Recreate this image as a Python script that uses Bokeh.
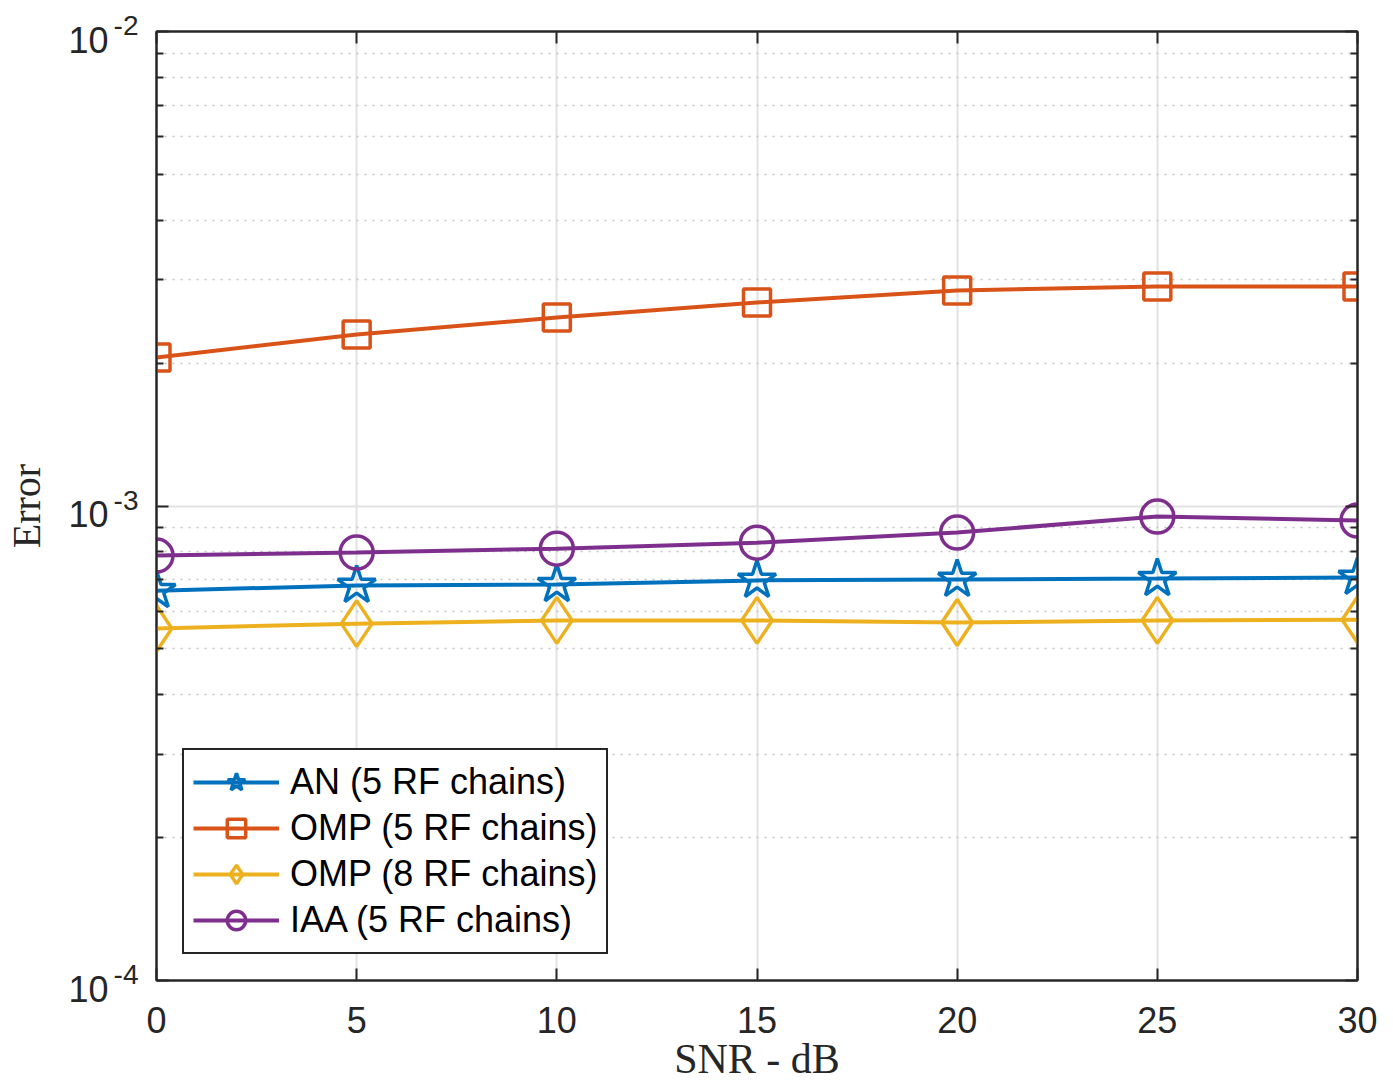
import numpy as np
from bokeh.plotting import figure
from bokeh.models import (LogAxis, LinearAxis, Legend, LegendItem, FixedTicker,
                          Range1d, CustomJSTickFormatter)
from bokeh.embed import file_html
from bokeh.resources import INLINE

# ---- data ----
snr_db = [0, 5, 10, 15, 20, 25, 30]
an_5rf = [6.63e-4, 6.80e-4, 6.83e-4, 6.97e-4, 7.00e-4, 7.03e-4, 7.07e-4]
omp_5rf = [2.056e-3, 2.298e-3, 2.496e-3, 2.685e-3, 2.845e-3, 2.901e-3, 2.900e-3]
omp_8rf = [5.52e-4, 5.65e-4, 5.74e-4, 5.74e-4, 5.68e-4, 5.74e-4, 5.76e-4]
iaa_5rf = [7.86e-4, 7.98e-4, 8.13e-4, 8.37e-4, 8.79e-4, 9.50e-4, 9.32e-4]
series_labels = ["AN (5 RF chains)", "OMP (5 RF chains)", "OMP (8 RF chains)", "IAA (5 RF chains)"]
x_ticks = [0, 5, 10, 15, 20, 25, 30]
y_decades = [-4, -3, -2]

AXC = "#262626"
TICK_FONT = "Liberation Sans"
LABEL_FONT = "Liberation Serif"

y_lo, y_hi = 10.0 ** y_decades[0], 10.0 ** y_decades[-1]
major_y = [10.0 ** e for e in y_decades]
minor_y = [m * 10.0 ** e for e in y_decades[:-1] for m in range(2, 10)]

p = figure(width=1385, height=1088, x_range=Range1d(0, 30), y_range=Range1d(y_lo, y_hi),
           y_axis_type="log", output_backend="svg", toolbar_location=None,
           min_border_left=156, min_border_right=28, min_border_top=31, min_border_bottom=108)
p.background_fill_color = "white"
p.border_fill_color = "white"
p.outline_line_color = AXC
p.outline_line_width = 2

empty = CustomJSTickFormatter(code="return ''")

# bottom axis
xa = p.xaxis[0]
xa.ticker = FixedTicker(ticks=x_ticks)
xa.major_label_text_font = TICK_FONT
xa.major_label_text_font_size = "36px"
xa.major_label_text_color = AXC
xa.major_label_standoff = 26
xa.major_tick_in = 12
xa.major_tick_out = 0
xa.minor_tick_line_color = None
xa.major_tick_line_color = AXC
xa.major_tick_line_width = 2
xa.axis_line_color = AXC
xa.axis_line_width = 2
xa.axis_label = "SNR - dB"
xa.axis_label_text_font = LABEL_FONT
xa.axis_label_text_font_size = "42px"
xa.axis_label_text_font_style = "normal"
xa.axis_label_text_color = AXC
xa.axis_label_standoff = 0

# left axis (ticks only)
ya = p.yaxis[0]
ya.ticker = FixedTicker(ticks=major_y, minor_ticks=minor_y)
ya.formatter = empty
ya.major_label_standoff = 0
ya.major_tick_in = 12
ya.major_tick_out = 0
ya.minor_tick_in = 7
ya.minor_tick_out = 0
ya.major_tick_line_color = AXC
ya.minor_tick_line_color = AXC
ya.major_tick_line_width = 2
ya.minor_tick_line_width = 2
ya.axis_line_color = AXC
ya.axis_line_width = 2

# exponent part of the y tick labels (first line of a two-line label -> raised)
exp_axis = LogAxis(ticker=FixedTicker(ticks=major_y, minor_ticks=[]),
                   formatter=CustomJSTickFormatter(
                       code="return String(Math.round(Math.log10(tick))) + '\\n '"),
                   major_label_standoff=18, major_label_text_font=TICK_FONT,
                   major_label_text_font_size="28px", major_label_text_color=AXC,
                   major_label_text_line_height=0.38,
                   axis_line_color=None, major_tick_line_color=None, minor_tick_line_color=None,
                   major_tick_out=0, major_tick_in=0, minor_tick_out=0, minor_tick_in=0)
p.add_layout(exp_axis, "left")

# base "10" part (second line of a two-line label -> lowered) + axis title
ten_axis = LogAxis(ticker=FixedTicker(ticks=major_y, minor_ticks=[]),
                   formatter=CustomJSTickFormatter(code="return ' \\n10'"),
                   major_label_standoff=2, major_label_text_font=TICK_FONT,
                   major_label_text_font_size="36px", major_label_text_color=AXC,
                   major_label_text_line_height=0.42,
                   axis_line_color=None, major_tick_line_color=None, minor_tick_line_color=None,
                   major_tick_out=0, major_tick_in=0, minor_tick_out=0, minor_tick_in=0,
                   axis_label="Error", axis_label_text_font=LABEL_FONT,
                   axis_label_text_font_size="40px", axis_label_text_font_style="normal",
                   axis_label_text_color=AXC, axis_label_standoff=16)
p.add_layout(ten_axis, "left")

# top and right axes (box with inward ticks)
top = LinearAxis(ticker=FixedTicker(ticks=x_ticks), formatter=empty,
                 major_tick_in=12, major_tick_out=0, minor_tick_line_color=None,
                 major_tick_line_color=AXC, major_tick_line_width=2,
                 axis_line_color=AXC, axis_line_width=2, major_label_standoff=0)
p.add_layout(top, "above")
right = LogAxis(ticker=FixedTicker(ticks=major_y, minor_ticks=minor_y), formatter=empty,
                major_tick_in=12, major_tick_out=0, minor_tick_in=7, minor_tick_out=0,
                major_tick_line_color=AXC, minor_tick_line_color=AXC,
                major_tick_line_width=2, minor_tick_line_width=2,
                axis_line_color=AXC, axis_line_width=2, major_label_standoff=0)
p.add_layout(right, "right")

# grids
p.xgrid.grid_line_color = "#e2e2e2"
p.xgrid.grid_line_width = 2
p.ygrid.grid_line_color = "#e2e2e2"
p.ygrid.grid_line_width = 2
p.ygrid.minor_grid_line_color = "#c4c4c4"
p.ygrid.minor_grid_line_width = 1.5
p.ygrid.minor_grid_line_dash = "2 6"

# series
colors = ["#0072BD", "#D95319", "#EDB120", "#7E2F8E"]
markers = ["star", "square", "diamond", "circle"]
sizes = [40, 27, 46, 33]
data = [an_5rf, omp_5rf, omp_8rf, iaa_5rf]

items = []
for lab, ys, c, m, s in zip(series_labels, data, colors, markers, sizes):
    ln = p.line(snr_db, ys, line_color=c, line_width=4)
    sc = p.scatter(snr_db, ys, marker=m, size=s, line_color=c, line_width=3.5, fill_color=None)
    items.append(LegendItem(label=lab, renderers=[ln, sc]))

legend = Legend(items=items, location=(26, 26), margin=0, padding=9, spacing=0,
                glyph_width=86, glyph_height=46, label_height=46, label_standoff=11,
                label_text_font=TICK_FONT, label_text_font_size="36px", label_text_color="black",
                border_line_color=AXC, border_line_width=2, border_line_alpha=1.0,
                background_fill_color="white", background_fill_alpha=1.0)
p.add_layout(legend)

open("out.html", "w").write(file_html(p, INLINE))
